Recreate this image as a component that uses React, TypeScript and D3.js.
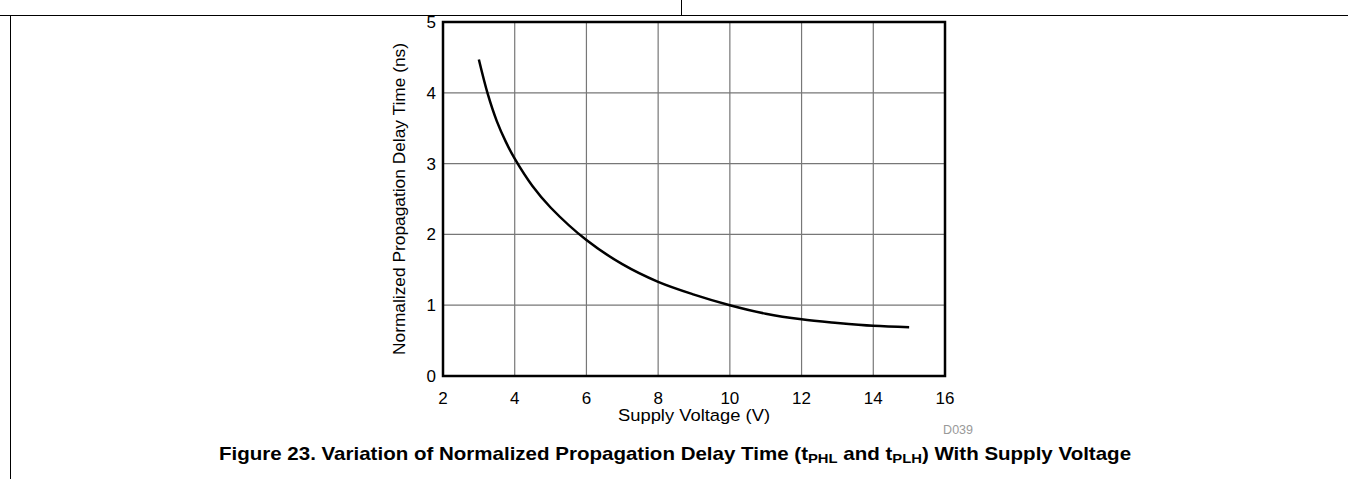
import * as d3 from "d3";

// supply voltage (V) and normalized delay
const voltage = [3, 3.25, 3.5, 3.75, 4, 4.5, 5, 6, 7, 8, 9, 10, 11, 12, 13, 14, 15];
const delay = [4.47, 3.98, 3.6, 3.31, 3.07, 2.68, 2.38, 1.92, 1.58, 1.33, 1.15, 1.0, 0.88, 0.8, 0.75, 0.71, 0.69];
const xTicks = [2, 4, 6, 8, 10, 12, 14, 16];
const yTicks = [0, 1, 2, 3, 4, 5];

const W = 1348;
const H = 479;
const PLOT = { left: 443, right: 945, top: 22, bottom: 376 };
const FONT = "'Liberation Sans', Arial, sans-serif";

export default function App() {
  const x = d3.scaleLinear().domain([2, 16]).range([PLOT.left, PLOT.right]);
  const y = d3.scaleLinear().domain([0, 5]).range([PLOT.bottom, PLOT.top]);

  const pts: [number, number][] = voltage.map((v, i) => [v, delay[i]]);
  const line = d3
    .line<[number, number]>()
    .x((d) => x(d[0]))
    .y((d) => y(d[1]))
    .curve(d3.curveCatmullRom.alpha(0.5));

  const cx = (PLOT.left + PLOT.right) / 2;
  const cy = (PLOT.top + PLOT.bottom) / 2;

  return (
    <div style={{ position: "absolute", left: 0, top: 0 }}>
      <svg width={W} height={H} style={{ display: "block" }} fontFamily={FONT}>
        <rect width={W} height={H} fill="white" />
        {/* page frame */}
        <line x1={0} x2={W} y1={15.5} y2={15.5} stroke="black" strokeWidth={1.2} />
        <line x1={681.5} x2={681.5} y1={0} y2={15.5} stroke="black" strokeWidth={1} />
        <line x1={10.5} x2={10.5} y1={15.5} y2={H} stroke="black" strokeWidth={1} />

        {/* grid */}
        {xTicks.slice(1, -1).map((t) => (
          <line key={"gx" + t} x1={x(t)} x2={x(t)} y1={PLOT.top} y2={PLOT.bottom} stroke="#777" strokeWidth={1.2} />
        ))}
        {yTicks.slice(1, -1).map((t) => (
          <line key={"gy" + t} x1={PLOT.left} x2={PLOT.right} y1={y(t)} y2={y(t)} stroke="#777" strokeWidth={1.2} />
        ))}

        <path d={line(pts) ?? ""} fill="none" stroke="black" strokeWidth={2.5} />

        <rect
          x={PLOT.left}
          y={PLOT.top}
          width={PLOT.right - PLOT.left}
          height={PLOT.bottom - PLOT.top}
          fill="none"
          stroke="black"
          strokeWidth={2.5}
        />

        {/* tick labels */}
        {yTicks.map((t) => (
          <text key={"ty" + t} x={PLOT.left - 7} y={y(t) + 6} textAnchor="end" fontSize={17}>
            {t}
          </text>
        ))}
        {xTicks.map((t) => (
          <text key={"tx" + t} x={x(t)} y={404} textAnchor="middle" fontSize={17}>
            {t}
          </text>
        ))}

        <text transform={`translate(${cx}, 421) scale(1.08, 1)`} textAnchor="middle" fontSize={17}>
          Supply Voltage (V)
        </text>
        <text
          transform={`translate(405, ${cy}) rotate(-90) scale(1.02, 1)`}
          textAnchor="middle"
          fontSize={17}
        >
          Normalized Propagation Delay Time (ns)
        </text>
        <text x={973} y={434} textAnchor="end" fontSize={12.5} fill="#999">
          D039
        </text>

        <text transform="translate(675, 460) scale(1.14, 1)" textAnchor="middle" fontSize={18} fontWeight="bold">
          Figure 23. Variation of Normalized Propagation Delay Time (t
          <tspan fontSize={13} dy={3}>PHL</tspan>
          <tspan dy={-3}> and t</tspan>
          <tspan fontSize={13} dy={3}>PLH</tspan>
          <tspan dy={-3}>) With Supply Voltage</tspan>
        </text>
      </svg>
    </div>
  );
}
